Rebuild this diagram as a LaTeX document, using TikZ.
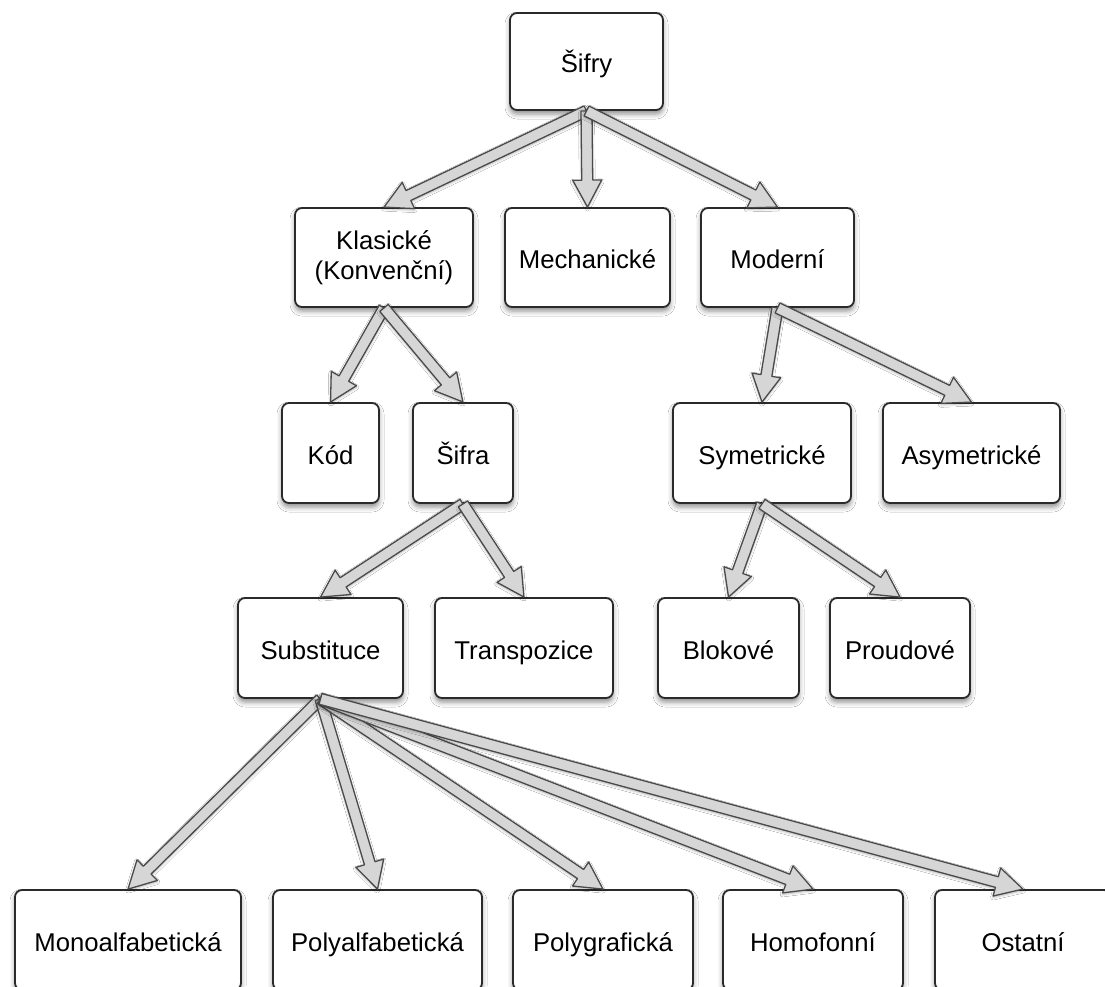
\documentclass[tikz,border=0pt]{standalone}
\usepackage{fontspec}
\setmainfont{Liberation Sans}
\usetikzlibrary{calc,shadows.blur}
\definecolor{arrfill}{HTML}{D6D6D6}
\definecolor{arrline}{HTML}{4A4A4A}
\definecolor{boxline}{HTML}{2A2A2A}
\tikzset{
  box/.style={draw=boxline, line width=1.8pt, rounded corners=7pt, fill=white,
    minimum height=99pt, inner sep=2pt, align=center,
    font=\fontsize{25.7}{30}\selectfont,
    blur shadow={shadow xshift=0pt, shadow yshift=-4pt, shadow blur radius=5pt, shadow opacity=45}},
  onebox/.style={box, align=none, text height=25pt, text depth=3pt},
  barrow/.style={draw=arrline, fill=arrfill, line width=1.3pt, line join=round,
    blur shadow={shadow xshift=0pt, shadow yshift=-1.5pt, shadow blur radius=2.5pt, shadow opacity=30}}
}
\newcommand\blockarr[2]{%
  \path[barrow] let \p1=(#1.south), \p2=(#2.north), \p3=($(\p2)-(\p1)$),
    \n1={veclen(\x3,\y3)}, \n2={atan2(\y3,\x3)} in
    [shift={(\p1)}, rotate=\n2]
    (0pt,-5.5pt) -- ({(\n1-27)*1pt},-5.5pt) -- ({(\n1-27)*1pt},-14.5pt) -- ({\n1*1pt},0pt)
    -- ({(\n1-27)*1pt},14.5pt) -- ({(\n1-27)*1pt},5.5pt) -- (0pt,5.5pt) -- cycle;}
\begin{document}
\begin{tikzpicture}[x=1pt,y=1pt]
\useasboundingbox (0,0) rectangle (1105,-986);
\fill[white] (0,0) rectangle (1105,-986);
\node[onebox, minimum width=153pt, minimum height=97pt] (sifry) at (586.5,-61.5) {Šifry};
\node[box, minimum width=178pt] (klas) at (384,-257.5) {\raisebox{-3pt}{Klasické}\\\raisebox{-3pt}{(Konvenční)}};
\node[onebox, minimum width=165pt] (mech) at (587.5,-257.5) {Mechanické};
\node[onebox, minimum width=153pt] (mod) at (777.5,-257.5) {Moderní};
\node[onebox, minimum width=97pt, minimum height=100pt] (kod) at (330.5,-453) {Kód};
\node[onebox, minimum width=100pt, minimum height=100pt] (sifra) at (463,-453) {Šifra};
\node[onebox, minimum width=178pt, minimum height=100pt] (sym) at (762,-453) {Symetrické};
\node[onebox, minimum width=177pt, minimum height=100pt] (asym) at (971.5,-453) {Asymetrické};
\node[onebox, minimum width=165pt, minimum height=100pt] (subs) at (320.5,-648) {Substituce};
\node[onebox, minimum width=178pt, minimum height=100pt] (trans) at (524,-648) {Transpozice};
\node[onebox, minimum width=141pt, minimum height=100pt] (blok) at (728.5,-648) {Blokové};
\node[onebox, minimum width=140pt, minimum height=100pt] (proud) at (900,-648) {Proudové};
\node[onebox, minimum width=226pt, minimum height=100pt] (mono) at (128,-940) {Monoalfabetická};
\node[onebox, minimum width=209pt, minimum height=100pt] (polya) at (377.5,-940) {Polyalfabetická};
\node[onebox, minimum width=180pt, minimum height=100pt] (polyg) at (603,-940) {Polygrafická};
\node[onebox, minimum width=180pt, minimum height=100pt] (homo) at (813,-940) {Homofonní};
\node[onebox, minimum width=176pt, minimum height=100pt] (ost) at (1023,-940) {Ostatní};
\blockarr{sifry}{klas}
\blockarr{sifry}{mech}
\blockarr{sifry}{mod}
\blockarr{klas}{kod}
\blockarr{klas}{sifra}
\blockarr{mod}{sym}
\blockarr{mod}{asym}
\blockarr{sifra}{subs}
\blockarr{sifra}{trans}
\blockarr{sym}{blok}
\blockarr{sym}{proud}
\blockarr{subs}{mono}
\blockarr{subs}{polya}
\blockarr{subs}{polyg}
\blockarr{subs}{homo}
\blockarr{subs}{ost}
\end{tikzpicture}
\end{document}
